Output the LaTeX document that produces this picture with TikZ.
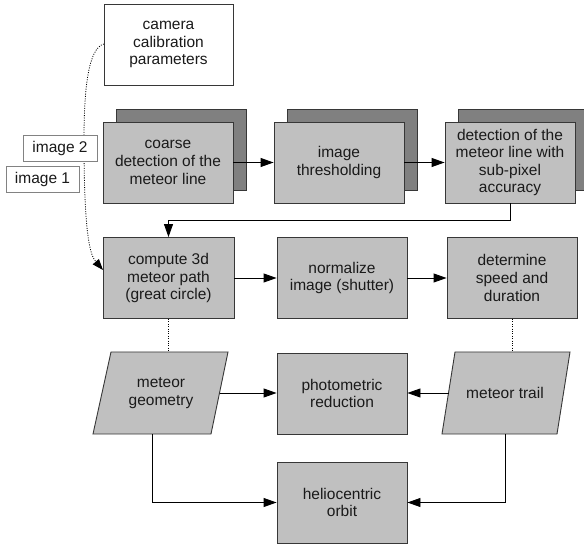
\documentclass[tikz,border=0pt]{standalone}
\usepackage{fontspec}
\setmainfont{Liberation Sans}
\usetikzlibrary{arrows.meta}
\definecolor{frontc}{RGB}{192,192,192}
\definecolor{backc}{RGB}{128,128,128}
\definecolor{bordc}{RGB}{55,55,55}
\definecolor{textc}{RGB}{26,26,26}
\definecolor{lblc}{RGB}{130,130,130}
\begin{document}
\begin{tikzpicture}[x=1pt,y=-1pt,
  every node/.style={font=\fontsize{15.5}{17.6}\selectfont, text=textc},
  frontbox/.style={draw=bordc, fill=frontc, line width=0.9pt, minimum width=130pt, minimum height=81pt, align=center, inner sep=0pt},
  backbox/.style={draw=bordc, fill=backc, line width=0.9pt, minimum width=130pt, minimum height=81pt, inner sep=0pt},
  whitebox/.style={draw=bordc, fill=white, line width=0.9pt, minimum width=129pt, minimum height=81pt, align=center, inner sep=0pt},
  lblbox/.style={draw=lblc, fill=white, line width=0.8pt, minimum width=74pt, minimum height=26pt, inner sep=0pt},
  para/.style={draw=bordc, fill=frontc, line width=0.9pt},
  conn/.style={draw=black, line width=0.9pt, -{Triangle[length=13pt,width=9pt]}},
  plainconn/.style={draw=black, line width=0.9pt},
  dotconn/.style={draw=black, line width=0.8pt, dash pattern=on 1pt off 1.4pt},
]
\useasboundingbox (0,0) rectangle (584,545);

% camera calibration
\node[whitebox] (cam) at (168.5,44.5) {camera\\calibration\\parameters};

% dotted curve from camera to compute
\coordinate (camleft) at (104,44);
\coordinate (curvemid) at (84,140);

% row 1
\node[backbox] (coarseback) at (181.5,150) {};
\node[frontbox] (coarse) at (168,162.5) {coarse\\detection of the\\meteor line};
\node[backbox] (threshback) at (352,150) {};
\node[frontbox] (thresh) at (339,162.5) {image\\thresholding};
\node[backbox] (detectback) at (523,150) {};
\node[frontbox] (detect) at (510,162.5) {detection of the\\meteor line with\\sub-pixel\\accuracy};

% row 2
\node[frontbox, minimum width=131pt] (compute) at (168.5,278) {compute 3d\\meteor path\\(great circle)};
\node[frontbox] (normalize) at (342,278) {normalize\\image (shutter)};
\node[frontbox] (determine) at (512,278) {determine\\speed and\\duration};

\coordinate (computein) at (103,270);
\draw[dotconn, -{Triangle[length=11pt,width=8pt]}] (camleft) .. controls (88,48) and (84,90) .. (curvemid) .. controls (84,235) and (90,255) .. (computein);

% image labels
\node[lblbox] (img2) at (60,148) {image 2};
\node[lblbox, minimum width=73pt] (img1) at (42.5,179) {image 1};

% row 3
\draw[para] (111,352) -- (228,352) -- (211,434) -- (93,434) -- cycle;
\node[align=center] (geom) at (161,393) {meteor\\geometry};
\draw[para] (455,352) -- (570,352) -- (557,434) -- (442,434) -- cycle;
\node[align=center] (trail) at (505,393) {meteor trail};
\node[frontbox] (photo) at (342,393.5) {photometric\\reduction};

% row 4
\node[frontbox] (helio) at (342,502.5) {heliocentric\\orbit};

% anchors on parallelograms
\coordinate (geomright) at (219.5,393);
\coordinate (geomtop) at (168.5,352);
\coordinate (geombot) at (152,434);
\coordinate (trailleft) at (448.5,393);
\coordinate (trailtop) at (512,352);
\coordinate (trailbot) at (505,434);

% connectors
\draw[conn] (coarse.east) -- (thresh.west);
\draw[conn] (thresh.east) -- (detect.west);
\draw[conn] (detect.south) -- ++(0,17) -| (compute.north);
\draw[conn] (compute.east) -- (normalize.west);
\draw[conn] (normalize.east) -- (determine.west);
\draw[dotconn] (compute.south) -- (geomtop);
\draw[dotconn] (determine.south) -- (trailtop);
\draw[conn] (geomright) -- (geomright -| photo.west);
\draw[conn] (trailleft) -- (trailleft -| photo.east);
\draw[conn] (geombot) |- (helio.west);
\draw[conn] (trailbot) |- (helio.east);
\end{tikzpicture}
\end{document}
